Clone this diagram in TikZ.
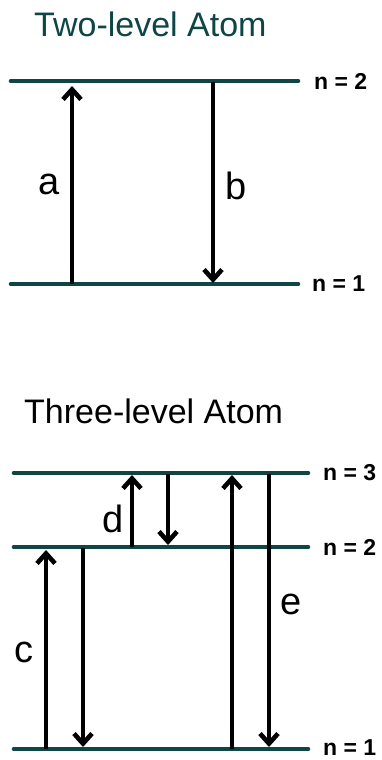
\documentclass[tikz,border=0pt]{standalone}
\usepackage{fontspec}
\setmainfont{Liberation Sans}
\usetikzlibrary{arrows.meta}
\definecolor{levelteal}{RGB}{14,70,70}
\tikzset{
  level/.style={line width=4.6pt, levelteal, line cap=round},
  trans/.style={line width=4.6pt, -{Straight Barb[length=10pt,width=18pt]}},
  lvllabel/.style={anchor=west, inner sep=0pt, font=\bfseries\fontsize{23}{23}\selectfont},
  trlabel/.style={inner sep=0pt, font=\fontsize{38}{38}\selectfont},
  title/.style={anchor=base west, inner sep=0pt, font=\fontsize{34}{34}\selectfont},
}
\begin{document}
\begin{tikzpicture}[x=1pt,y=-1pt]
    \useasboundingbox (0,0) rectangle (382,760);
    % two-level atom
    \node[title, levelteal] (twotitle) at (34,37) {Two-level Atom};
    \coordinate (ttopl) at (11,81);  \coordinate (ttopr) at (298,81);
    \coordinate (tbotl) at (11,284); \coordinate (tbotr) at (298,284);
    \draw[level] (ttopl) -- (ttopr);
    \draw[level] (tbotl) -- (tbotr);
    \node[lvllabel] (tn2) at (314,81) {n = 2};
    \node[lvllabel] (tn1) at (312,284) {n = 1};
    \coordinate (a0) at (72,284); \coordinate (a1) at (72,86);
    \coordinate (b0) at (213,82); \coordinate (b1) at (213,283);
    \draw[trans] (a0) -- (a1);
    \draw[trans] (b0) -- (b1);
    \node[trlabel] (la) at (49,184) {a};
    \node[trlabel] (lb) at (236,186) {b};
    % three-level atom
    \node[title] (threetitle) at (24,423) {Three-level Atom};
    \coordinate (h3l) at (14,473); \coordinate (h3r) at (308,473);
    \coordinate (h2l) at (14,547); \coordinate (h2r) at (308,547);
    \coordinate (h1l) at (14,749); \coordinate (h1r) at (308,749);
    \draw[level] (h3l) -- (h3r);
    \draw[level] (h2l) -- (h2r);
    \draw[level] (h1l) -- (h1r);
    \node[lvllabel] (hn3) at (323,473) {n = 3};
    \node[lvllabel] (hn2) at (323,547) {n = 2};
    \node[lvllabel] (hn1) at (323,748) {n = 1};
    \coordinate (c0) at (46,749);  \coordinate (c1) at (46,550);
    \coordinate (cc0) at (83,548); \coordinate (cc1) at (83,747);
    \coordinate (d0) at (132,547); \coordinate (d1) at (132,475);
    \coordinate (dd0) at (168,474); \coordinate (dd1) at (168,545);
    \coordinate (e0) at (232,749); \coordinate (e1) at (232,475);
    \coordinate (ee0) at (269,474); \coordinate (ee1) at (269,747);
    \draw[trans] (c0) -- (c1);
    \draw[trans] (cc0) -- (cc1);
    \draw[trans] (d0) -- (d1);
    \draw[trans] (dd0) -- (dd1);
    \draw[trans] (e0) -- (e1);
    \draw[trans] (ee0) -- (ee1);
    \node[trlabel] (lc) at (24,652) {c};
    \node[trlabel] (ld) at (113,519) {d};
    \node[trlabel] (le) at (291,604) {e};
\end{tikzpicture}
\end{document}
